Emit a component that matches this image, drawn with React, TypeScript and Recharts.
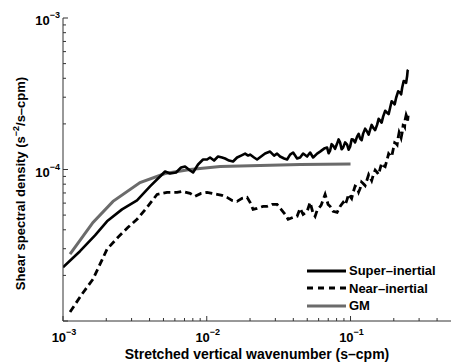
import { LineChart, Line, XAxis, YAxis, Legend, Label } from "recharts";

// stretched vertical wavenumber (s-cpm) and shear spectral density (s^-2/s-cpm)
const superK = [
  1.0e-3, 1.313e-3, 1.67e-3, 2.024e-3, 2.574e-3, 3.273e-3, 4.031e-3, 4.732e-3, 5.126e-3, 5.554e-3,
  6.115e-3, 6.626e-3, 7.063e-3, 7.652e-3, 8.03e-3, 8.699e-3, 9.425e-3, 1.005e-2, 1.054e-2, 1.124e-2,
  1.198e-2, 1.278e-2, 1.341e-2, 1.429e-2, 1.524e-2, 1.625e-2, 1.733e-2, 1.848e-2, 1.939e-2, 2.001e-2,
  2.134e-2, 2.239e-2, 2.387e-2, 2.545e-2, 2.757e-2, 2.94e-2, 3.084e-2, 3.236e-2, 3.451e-2, 3.622e-2,
  3.8e-2, 3.987e-2, 4.251e-2, 4.461e-2, 4.679e-2, 4.989e-2, 5.236e-2, 5.492e-2, 5.857e-2, 6.143e-2,
  6.552e-2, 6.875e-2, 7.04e-2, 7.211e-2, 7.39e-2, 7.567e-2, 7.81e-2, 8.067e-2, 8.26e-2, 8.467e-2,
  8.67e-2, 8.882e-2, 9.17e-2, 9.47e-2, 9.7e-2, 9.936e-2, 0.1018, 0.1043, 0.1076, 0.1111,
  0.1139, 0.1167, 0.1195, 0.1224, 0.1264, 0.1305, 0.1337, 0.1369, 0.1403, 0.1437,
  0.1484, 0.1532, 0.1569, 0.1607, 0.1646, 0.1686, 0.1741, 0.1798, 0.1841, 0.1886,
  0.1932, 0.198, 0.2028, 0.2077, 0.2144, 0.2214, 0.225, 0.2287, 0.2343, 0.2399,
  0.2437, 0.2477, 0.2497, 0.2517,
];
const superS = [
  2.266e-5, 2.888e-5, 3.679e-5, 4.548e-5, 5.455e-5, 6.254e-5, 7.73e-5, 8.994e-5, 9.701e-5, 9.412e-5,
  9.556e-5, 1.031e-4, 1.046e-4, 9.85e-5, 9.556e-5, 1.079e-4, 1.164e-4, 1.164e-4, 1.2e-4, 1.146e-4,
  1.218e-4, 1.2e-4, 1.182e-4, 1.146e-4, 1.129e-4, 1.2e-4, 1.236e-4, 1.274e-4, 1.236e-4, 1.255e-4,
  1.2e-4, 1.164e-4, 1.218e-4, 1.274e-4, 1.313e-4, 1.236e-4, 1.274e-4, 1.218e-4, 1.182e-4, 1.164e-4,
  1.255e-4, 1.294e-4, 1.182e-4, 1.2e-4, 1.274e-4, 1.218e-4, 1.294e-4, 1.2e-4, 1.274e-4, 1.313e-4,
  1.374e-4, 1.395e-4, 1.28e-4, 1.334e-4, 1.47e-4, 1.438e-4, 1.37e-4, 1.483e-4, 1.58e-4, 1.505e-4,
  1.36e-4, 1.395e-4, 1.51e-4, 1.46e-4, 1.35e-4, 1.416e-4, 1.58e-4, 1.575e-4, 1.51e-4, 1.648e-4,
  1.72e-4, 1.599e-4, 1.56e-4, 1.725e-4, 1.86e-4, 1.778e-4, 1.7e-4, 1.833e-4, 1.97e-4, 1.889e-4,
  1.82e-4, 1.977e-4, 2.16e-4, 2.1e-4, 2.04e-4, 2.232e-4, 2.44e-4, 2.371e-4, 2.32e-4, 2.558e-4,
  2.82e-4, 2.759e-4, 2.69e-4, 2.976e-4, 3.28e-4, 3.21e-4, 3.13e-4, 3.463e-4, 3.84e-4, 3.793e-4,
  3.73e-4, 4.153e-4, 4.5e-4, 4.549e-4,
];

const nearK = [
  1.119e-3, 1.356e-3, 1.617e-3, 2.024e-3, 2.414e-3, 2.834e-3, 3.273e-3, 3.842e-3, 4.51e-3, 5.29e-3,
  6.213e-3, 6.733e-3, 7.652e-3, 8.29e-3, 9.127e-3, 1.005e-2, 1.089e-2, 1.18e-2, 1.278e-2, 1.384e-2,
  1.5e-2, 1.625e-2, 1.761e-2, 1.907e-2, 2.001e-2, 2.1e-2, 2.239e-2, 2.465e-2, 2.628e-2, 2.848e-2,
  3.084e-2, 3.289e-2, 3.507e-2, 3.68e-2, 3.987e-2, 4.251e-2, 4.461e-2, 4.679e-2, 4.989e-2, 5.236e-2,
  5.492e-2, 5.671e-2, 5.857e-2, 6.243e-2, 6.658e-2, 6.985e-2, 7.211e-2, 7.567e-2, 8.067e-2, 8.467e-2,
  8.882e-2, 9.17e-2, 9.47e-2, 9.7e-2, 9.936e-2, 0.1018, 0.1043, 0.1076, 0.1111, 0.1139,
  0.1167, 0.1195, 0.1224, 0.1264, 0.1305, 0.1337, 0.1369, 0.1403, 0.1437, 0.1484,
  0.1532, 0.1569, 0.1607, 0.1646, 0.1686, 0.1741, 0.1798, 0.1841, 0.1886, 0.1932,
  0.198, 0.2028, 0.2077, 0.211, 0.2144, 0.2179, 0.2214, 0.225, 0.2287, 0.2323,
  0.236, 0.238, 0.2399, 0.2438, 0.2477, 0.2497, 0.2517,
];
const nearS = [
  1.146e-5, 1.505e-5, 1.889e-5, 2.977e-5, 3.57e-5, 4.153e-5, 4.69e-5, 5.623e-5, 6.847e-5, 7.057e-5,
  7.057e-5, 7.165e-5, 6.952e-5, 6.644e-5, 6.952e-5, 7.057e-5, 6.952e-5, 6.847e-5, 6.745e-5, 6.544e-5,
  6.254e-5, 6.16e-5, 6.446e-5, 6.544e-5, 6.068e-5, 5.455e-5, 5.538e-5, 5.709e-5, 5.709e-5, 5.884e-5,
  5.884e-5, 5.455e-5, 5.057e-5, 4.69e-5, 4.831e-5, 4.905e-5, 5.538e-5, 5.057e-5, 5.292e-5, 6.068e-5,
  5.134e-5, 4.905e-5, 5.373e-5, 5.796e-5, 6.847e-5, 5.884e-5, 5.709e-5, 5.292e-5, 5.213e-5, 5.709e-5,
  6.068e-5, 5.83e-5, 6.349e-5, 6.88e-5, 6.644e-5, 6.44e-5, 7.057e-5, 7.77e-5, 7.613e-5, 7.1e-5,
  7.499e-5, 8.26e-5, 8.09e-5, 7.84e-5, 8.595e-5, 9.25e-5, 8.859e-5, 8.45e-5, 9.13e-5, 9.9e-5,
  9.556e-5, 9.26e-5, 1.015e-4, 1.1e-4, 1.062e-4, 1.045e-4, 1.164e-4, 1.271e-4, 1.236e-4, 1.216e-4,
  1.354e-4, 1.502e-4, 1.483e-4, 1.458e-4, 1.623e-4, 1.76e-4, 1.699e-4, 1.62e-4, 1.751e-4, 1.96e-4,
  1.948e-4, 1.92e-4, 2.133e-4, 2.29e-4, 2.198e-4, 2.1e-4, 2.266e-4,
];

const gmK = [1.119e-3, 1.617e-3, 2.228e-3, 3.434e-3, 5.126e-3, 7.652e-3, 1.238e-2, 2.349e-2, 4.461e-2, 0.1];
const gmS = [2.759e-5, 4.479e-5, 6.16e-5, 8.21e-5, 9.412e-5, 1.0e-4, 1.046e-4, 1.062e-4, 1.079e-4, 1.087e-4];

const seriesNames = ["Super\u2013inertial", "Near\u2013inertial", "GM"];

const xTicks = [
  0.001, 0.002, 0.003, 0.004, 0.005, 0.006, 0.007, 0.008, 0.009,
  0.01, 0.02, 0.03, 0.04, 0.05, 0.06, 0.07, 0.08, 0.09,
  0.1, 0.2, 0.3, 0.4,
];
const yTicks = [
  1e-5, 2e-5, 3e-5, 4e-5, 5e-5, 6e-5, 7e-5, 8e-5, 9e-5,
  1e-4, 2e-4, 3e-4, 4e-4, 5e-4, 6e-4, 7e-4, 8e-4, 9e-4,
  1e-3,
];
// decades that carry a printed label
const xLabelled = [1e-3, 1e-2, 1e-1];
const yLabelled = [1e-4, 1e-3];

const superData = superK.map((k, i) => ({ k, s: superS[i] }));
const nearData = nearK.map((k, i) => ({ k, s: nearS[i] }));
const gmData = gmK.map((k, i) => ({ k, s: gmS[i] }));

const FONT = "'Liberation Sans', Arial, Helvetica, sans-serif";
const AXIS = "#333";
const GRAY = "#6b6b6b";

const isMajor = (v: number) => Math.abs(Math.log10(v) - Math.round(Math.log10(v))) < 1e-6;
const expOf = (v: number) => Math.round(Math.log10(v));
const hasLabel = (list: number[], v: number) => list.some((t) => Math.abs(t - v) / t < 1e-6);

function Pow({ x, y, v, anchor }: { x: number; y: number; v: number; anchor: string }) {
  return (
    <text x={x} y={y} textAnchor={anchor} fontFamily={FONT} fontWeight="bold" fontSize={13} fill="#000">
      10
      <tspan dy={-7} fontSize={9}>
        {"\u2212" + Math.abs(expOf(v))}
      </tspan>
    </text>
  );
}

const tickBottom = (p: any) => {
  const { x, y, payload } = p;
  const m = isMajor(payload.value);
  return (
    <g>
      <line x1={x} x2={x} y1={y} y2={y - (m ? 5 : 3)} stroke={AXIS} />
      {hasLabel(xLabelled, payload.value) && <Pow x={x + 1} y={y + 21} v={payload.value} anchor="middle" />}
    </g>
  );
};
const tickTop = (p: any) => {
  const { x, y, payload } = p;
  const m = isMajor(payload.value);
  return <line x1={x} x2={x} y1={y} y2={y + (m ? 5 : 3)} stroke={AXIS} />;
};
const tickLeft = (p: any) => {
  const { x, y, payload } = p;
  const m = isMajor(payload.value);
  return (
    <g>
      <line x1={x} x2={x + (m ? 5 : 3)} y1={y} y2={y} stroke={AXIS} />
      {hasLabel(yLabelled, payload.value) && <Pow x={x - 3} y={y + 7} v={payload.value} anchor="end" />}
    </g>
  );
};
const tickRight = (p: any) => {
  const { x, y, payload } = p;
  const m = isMajor(payload.value);
  return <line x1={x} x2={x - (m ? 5 : 3)} y1={y} y2={y} stroke={AXIS} />;
};

const yLabel = (p: any) => {
  const vb = p.viewBox;
  const cx = vb.x + 25;
  const cy = vb.y + vb.height / 2 + 14;
  return (
    <text
      x={cx}
      y={cy}
      transform={`rotate(-90, ${cx}, ${cy})`}
      textAnchor="middle"
      fontFamily={FONT}
      fontWeight="bold"
      fontSize={13}
      fill="#000"
    >
      Shear spectral density (s
      <tspan dy={-6} fontSize={9}>{"\u22122"}</tspan>
      <tspan dy={6}>/s{"\u2013"}cpm)</tspan>
    </text>
  );
};

const xLabel = (p: any) => {
  const vb = p.viewBox;
  return (
    <text
      x={vb.x + vb.width / 2}
      y={vb.y + 38}
      textAnchor="middle"
      fontFamily={FONT}
      fontWeight="bold"
      fontSize={14}
      fill="#000"
    >
      Stretched vertical wavenumber (s{"\u2013"}cpm)
    </text>
  );
};

const legendStyles = [
  { color: "#000", dash: undefined as string | undefined },
  { color: "#000", dash: "6 5" },
  { color: GRAY, dash: undefined as string | undefined },
];

const renderLegend = () => (
  <div style={{ fontFamily: FONT, fontWeight: "bold", fontSize: 13, lineHeight: "17.5px" }}>
    {seriesNames.map((n, i) => (
      <div key={n} style={{ display: "flex", alignItems: "center" }}>
        <svg width={40} height={10} style={{ marginRight: 2 }}>
          <line
            x1={0}
            x2={39}
            y1={5}
            y2={5}
            stroke={legendStyles[i].color}
            strokeWidth={3}
            strokeDasharray={legendStyles[i].dash}
          />
        </svg>
        <span>{n}</span>
      </div>
    ))}
  </div>
);

export default function App() {
  return (
    <div style={{ position: "absolute", left: 0, top: 0, background: "#fff" }}>
      <LineChart width={453} height={364} margin={{ top: 18, right: 2, bottom: 0, left: 0 }}>
        <XAxis
          dataKey="k"
          type="number"
          scale="log"
          domain={[0.001, 0.5]}
          allowDataOverflow
          ticks={xTicks}
          interval={0}
          tick={tickBottom}
          tickLine={false}
          tickSize={0}
          tickMargin={0}
          height={43}
          stroke={AXIS}
        >
          <Label content={xLabel} />
        </XAxis>
        <XAxis
          xAxisId="top"
          orientation="top"
          dataKey="k"
          type="number"
          scale="log"
          domain={[0.001, 0.5]}
          allowDataOverflow
          ticks={xTicks}
          interval={0}
          tick={tickTop}
          tickLine={false}
          tickSize={0}
          tickMargin={0}
          height={0}
          stroke={AXIS}
        />
        <YAxis
          type="number"
          scale="log"
          domain={[1e-5, 1e-3]}
          allowDataOverflow
          ticks={yTicks}
          interval={0}
          tick={tickLeft}
          tickLine={false}
          tickSize={0}
          tickMargin={0}
          width={63}
          stroke={AXIS}
        >
          <Label content={yLabel} />
        </YAxis>
        <YAxis
          yAxisId="right"
          orientation="right"
          type="number"
          scale="log"
          domain={[1e-5, 1e-3]}
          allowDataOverflow
          ticks={yTicks}
          interval={0}
          tick={tickRight}
          tickLine={false}
          tickSize={0}
          tickMargin={0}
          width={0}
          stroke={AXIS}
        />
        <Legend
          layout="vertical"
          align="center"
          verticalAlign="middle"
          content={renderLegend}
          wrapperStyle={{ left: 307, top: 262, width: 146, height: 55 }}
        />
        <Line
          data={gmData}
          dataKey="s"
          name={seriesNames[2]}
          stroke={GRAY}
          strokeWidth={3}
          dot={false}
          isAnimationActive={false}
        />
        <Line
          data={nearData}
          dataKey="s"
          name={seriesNames[1]}
          stroke="#000"
          strokeWidth={2.8}
          strokeDasharray="7 4"
          dot={false}
          isAnimationActive={false}
        />
        <Line
          data={superData}
          dataKey="s"
          name={seriesNames[0]}
          stroke="#000"
          strokeWidth={2.6}
          strokeLinejoin="round"
          dot={false}
          isAnimationActive={false}
        />
      </LineChart>
    </div>
  );
}
